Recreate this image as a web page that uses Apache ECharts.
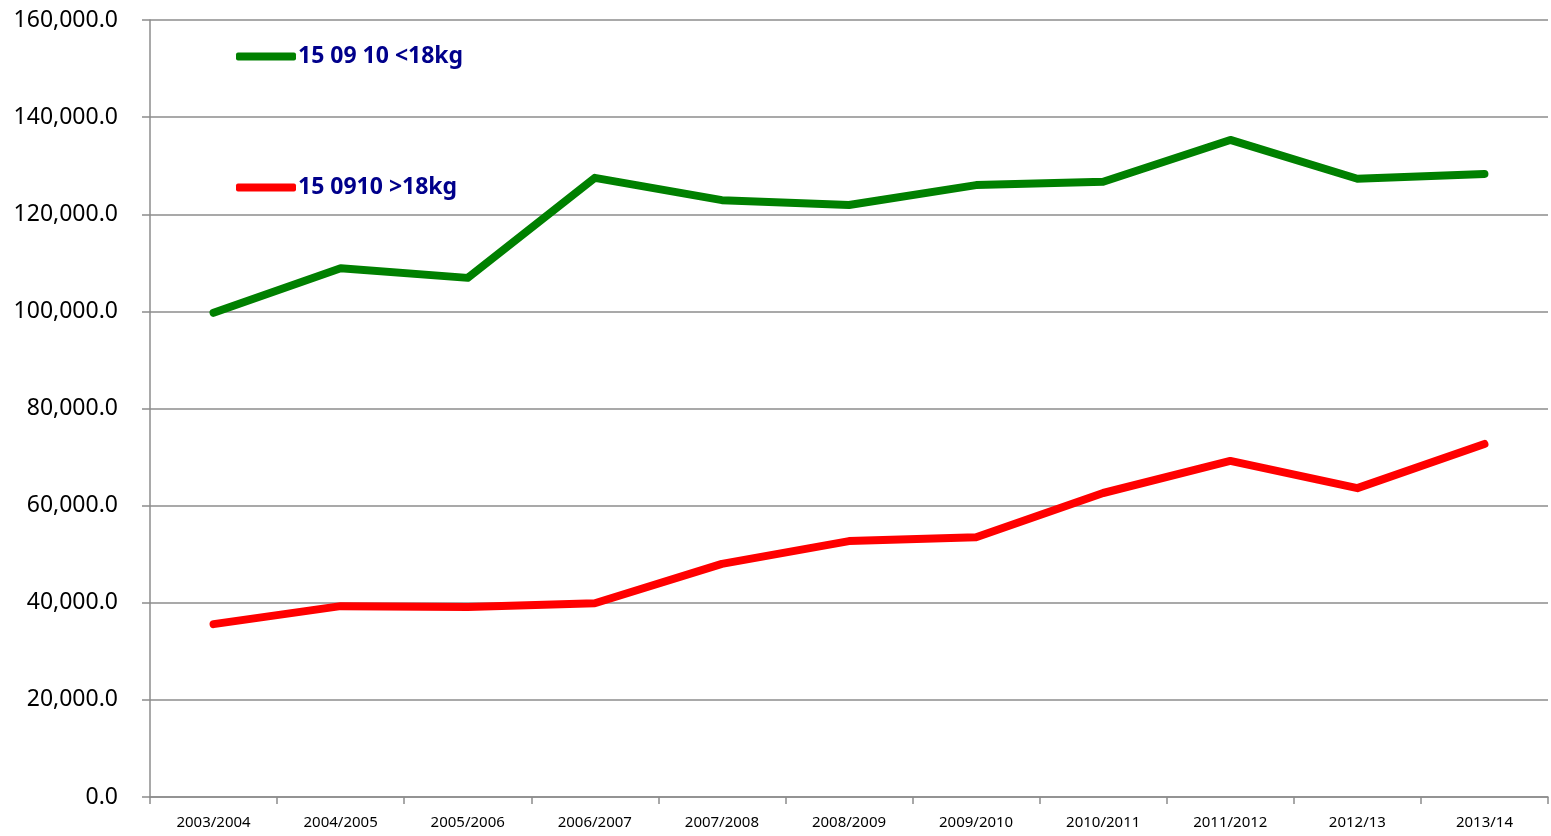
<!DOCTYPE html>
<html lang="en">
<head>
    <meta charset="UTF-8">
    <title>15 09 10</title>
    <script src="https://cdn.jsdelivr.net/npm/echarts@6/dist/echarts.min.js"></script>
</head>
<style>
    html, body { margin: 0; padding: 0; background: #fff; }
    #line { width: 1551px; height: 836px; }
</style>
<body>
<div id="line"></div>
<script>
    var years = ['2003/2004', '2004/2005', '2005/2006', '2006/2007', '2007/2008', '2008/2009',
        '2009/2010', '2010/2011', '2011/2012', '2012/13', '2013/14'];
    var under18 = [99700, 108900, 106900, 127500, 122900, 121900, 126000, 126700, 135300, 127300, 128300];
    var over18 = [35600, 39300, 39100, 39900, 48000, 52700, 53500, 62600, 69200, 63600, 72700];
    var names = ['15 09 10 <18kg', '15 0910 >18kg'];

    var myChart = echarts.init(document.getElementById('line'));
    var gray = '#8c8c8c';
    var option = {
        animation: false,
        grid: {
            left: 150,
            right: 3,
            top: 20,
            bottom: 39
        },
        legend: {
            orient: 'vertical',
            left: 231,
            top: 40,
            itemGap: 108,
            itemWidth: 60,
            itemHeight: 8,
            icon: 'roundRect',
            textStyle: {
                color: '#00008b',
                fontWeight: 'bold',
                fontSize: 23,
                fontFamily: 'Noto Sans',
                padding: [0, 0, 0, -3]
            },
            data: names
        },
        xAxis: {
            type: 'category',
            data: years,
            boundaryGap: true,
            axisLine: { lineStyle: { color: gray, width: 1.5 } },
            axisTick: { show: true, length: 7, lineStyle: { color: gray, width: 1.5 } },
            axisLabel: {
                color: '#000',
                fontSize: 15,
                fontFamily: 'Noto Sans',
                margin: 18,
                interval: 0
            }
        },
        yAxis: {
            type: 'value',
            min: 0,
            max: 160000,
            interval: 20000,
            axisLine: { show: true, lineStyle: { color: gray, width: 1.5 } },
            axisTick: { show: true, length: 8, lineStyle: { color: gray, width: 1.5 } },
            splitLine: { lineStyle: { color: gray, width: 1.5 } },
            axisLabel: {
                color: '#000',
                fontSize: 23,
                fontFamily: 'Noto Sans',
                margin: 32,
                formatter: function (v) {
                    return v.toLocaleString('en-US', { minimumFractionDigits: 1, maximumFractionDigits: 1 });
                }
            }
        },
        series: [{
            name: names[0],
            type: 'line',
            data: under18,
            symbol: 'none',
            color: '#008000',
            lineStyle: { width: 8, color: '#008000', cap: 'round', join: 'round' }
        }, {
            name: names[1],
            type: 'line',
            data: over18,
            symbol: 'none',
            color: '#ff0000',
            lineStyle: { width: 8, color: '#ff0000', cap: 'round', join: 'round' }
        }]
    };
    myChart.setOption(option);
</script>
</body>
</html>
